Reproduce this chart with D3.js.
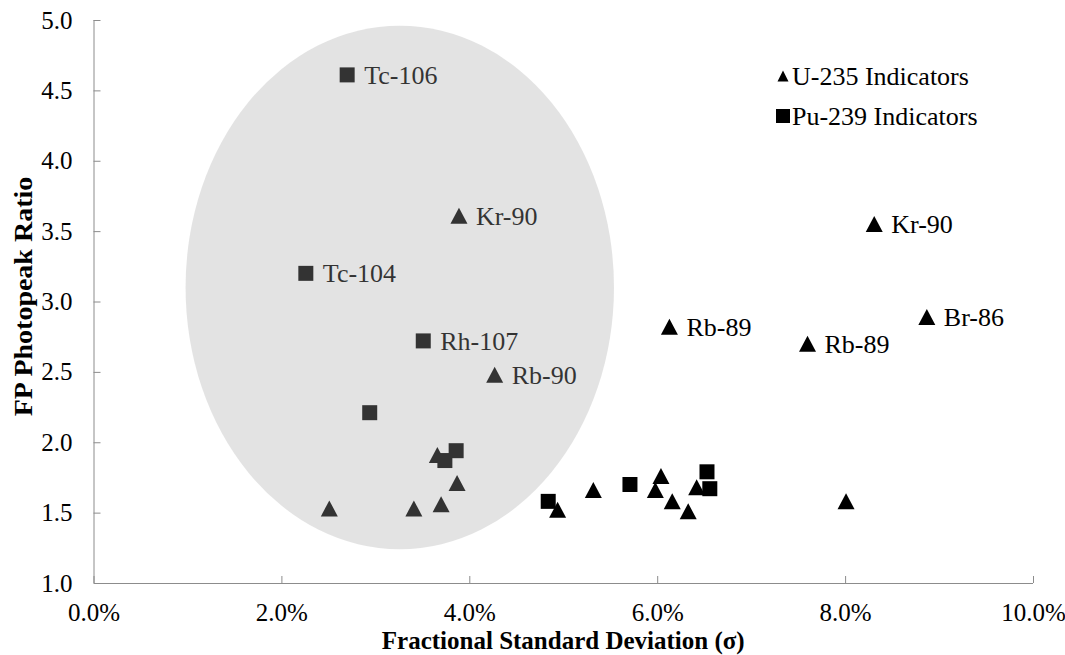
<!DOCTYPE html>
<html>
<head>
<meta charset="utf-8">
<script src="https://cdn.jsdelivr.net/npm/d3@7"></script>
<style>
body { margin: 0; background: #fff; }
text { font-family: "Liberation Serif", "Times New Roman", serif; }
</style>
</head>
<body>
<div id="chart"></div>
<script>
///////////////////// DATA /////////////////////////
// U-235 indicators (triangles), x = fractional std dev in %, y = photopeak ratio
let u235_x = [3.89, 4.27, 8.31, 8.87, 6.13, 7.60, 3.66, 3.87, 2.51, 3.41, 3.70, 4.94, 5.32, 6.04, 5.98, 6.16, 6.33, 6.42, 8.01];
let u235_y = [3.61, 2.48, 3.55, 2.89, 2.82, 2.70, 1.91, 1.71, 1.53, 1.53, 1.56, 1.52, 1.66, 1.76, 1.66, 1.58, 1.51, 1.68, 1.58];
let u235_labels = ["Kr-90", "Rb-90", "Kr-90", "Br-86", "Rb-89", "Rb-89", "", "", "", "", "", "", "", "", "", "", "", "", ""];

// Pu-239 indicators (squares)
let pu239_x = [2.70, 2.26, 3.51, 2.94, 3.86, 3.74, 4.84, 5.71, 6.53, 6.56];
let pu239_y = [4.61, 3.20, 2.72, 2.21, 1.94, 1.87, 1.58, 1.70, 1.79, 1.67];
let pu239_labels = ["Tc-106", "Tc-104", "Rh-107", "", "", "", "", "", "", ""];

let x_ticks = [0, 2, 4, 6, 8, 10];
let y_ticks = [1.0, 1.5, 2.0, 2.5, 3.0, 3.5, 4.0, 4.5, 5.0];
let legend_names = ["U-235 Indicators", "Pu-239 Indicators"];

// highlighted cluster (ellipse), in data units
let cluster = {cx: 3.26, cy: 3.10, rx: 2.28, ry: 1.86};

/////////////////////// CHART /////////////////////////////////
let margin = {top: 20, right: 32, bottom: 72, left: 93.5},
    width = 1065 - margin.left - margin.right,
    height = 655 - margin.top - margin.bottom;

var svg = d3.select("#chart")
    .append("svg")
    .attr("width", 1065)
    .attr("height", 655)
    .append("g")
    .attr("transform", "translate(" + margin.left + "," + margin.top + ")");

let x_scale = d3.scaleLinear().domain([0, 10]).range([0, width]);
let y_scale = d3.scaleLinear().domain([1, 5]).range([height, 0]);

let axis_color = "#8c8c8c";

// x axis - ticks point inward
let gx = svg.append("g")
    .attr("transform", "translate(0," + height + ")")
    .call(d3.axisBottom(x_scale).tickValues(x_ticks).tickSize(-7).tickPadding(20)
	  .tickFormat(d => d.toFixed(1) + "%"));
gx.select(".domain").attr("stroke", axis_color).attr("d", "M0.5,0.5H" + width);
gx.selectAll(".tick line").attr("stroke", axis_color);
gx.selectAll(".tick text").style("font-size", "25px").attr("fill", "#000");

// y axis
let gy = svg.append("g")
    .call(d3.axisLeft(y_scale).tickValues(y_ticks).tickSize(-7).tickPadding(21)
	  .tickFormat(d => d.toFixed(1)));
gy.select(".domain").attr("stroke", axis_color).attr("d", "M0.5," + height + "V0");
gy.selectAll(".tick line").attr("stroke", axis_color);
gy.selectAll(".tick text").style("font-size", "25px").attr("fill", "#000");

// axis titles
svg.append("text")
    .attr("x", width / 2)
    .attr("y", height + 66)
    .attr("text-anchor", "middle")
    .style("font-size", "25px")
    .style("font-weight", "bold")
    .text("Fractional Standard Deviation (σ)");

// y title is drawn a bit longer than normal, like the reference
svg.append("text")
    .attr("transform", "translate(" + (-62) + "," + (height / 2 - 5) + ") scale(1,1.12) rotate(-90)")
    .attr("text-anchor", "middle")
    .style("font-size", "25px")
    .style("font-weight", "bold")
    .text("FP Photopeak Ratio");

// excel-like marker shapes
let tri = (w, h) => ({draw: (ctx) => {
    ctx.moveTo(0, -h / 2);
    ctx.lineTo(w / 2, h / 2);
    ctx.lineTo(-w / 2, h / 2);
    ctx.closePath();
}});
let sq = (s) => ({draw: (ctx) => { ctx.rect(-s / 2, -s / 2, s, s); }});

let u235 = u235_x.map((x, i) => ({x: x, y: u235_y[i], label: u235_labels[i]}));
let pu239 = pu239_x.map((x, i) => ({x: x, y: pu239_y[i], label: pu239_labels[i]}));

svg.selectAll(".pu")
    .data(pu239)
    .enter()
    .append("path")
    .attr("class", "pu")
    .attr("transform", d => "translate(" + x_scale(d.x) + "," + y_scale(d.y) + ")")
    .attr("d", d3.symbol().type(sq(15))())
    .attr("fill", "#000");

svg.selectAll(".u")
    .data(u235)
    .enter()
    .append("path")
    .attr("class", "u")
    .attr("transform", d => "translate(" + x_scale(d.x) + "," + y_scale(d.y) + ")")
    .attr("d", d3.symbol().type(tri(17, 16))())
    .attr("fill", "#000");

// point labels
svg.selectAll(".lbl")
    .data(u235.concat(pu239).filter(d => d.label))
    .enter()
    .append("text")
    .attr("class", "lbl")
    .attr("x", d => x_scale(d.x) + 17)
    .attr("y", d => y_scale(d.y))
    .attr("dy", "0.35em")
    .style("font-size", "26px")
    .attr("fill", "#000")
    .text(d => d.label);

// legend
let legend = svg.append("g").attr("transform", "translate(" + (783 - margin.left) + "," + (76 - margin.top) + ")");
legend_names.forEach((name, i) => {
    legend.append("path")
	.attr("transform", "translate(0," + (i * 40) + ")")
	.attr("d", d3.symbol().type(i == 0 ? tri(11, 11) : sq(14))())
	.attr("fill", "#000");
    legend.append("text")
	.attr("x", 9)
	.attr("y", i * 40)
	.attr("dy", "0.35em")
	.style("font-size", "26px")
	.attr("fill", "#000")
	.text(name);
});

// translucent ellipse laid over the cluster
svg.append("ellipse")
    .attr("cx", x_scale(cluster.cx))
    .attr("cy", y_scale(cluster.cy))
    .attr("rx", x_scale(cluster.rx) - x_scale(0))
    .attr("ry", y_scale(0) - y_scale(cluster.ry))
    .attr("fill", "rgb(165,165,165)")
    .attr("fill-opacity", 0.31);
</script>
</body>
</html>
